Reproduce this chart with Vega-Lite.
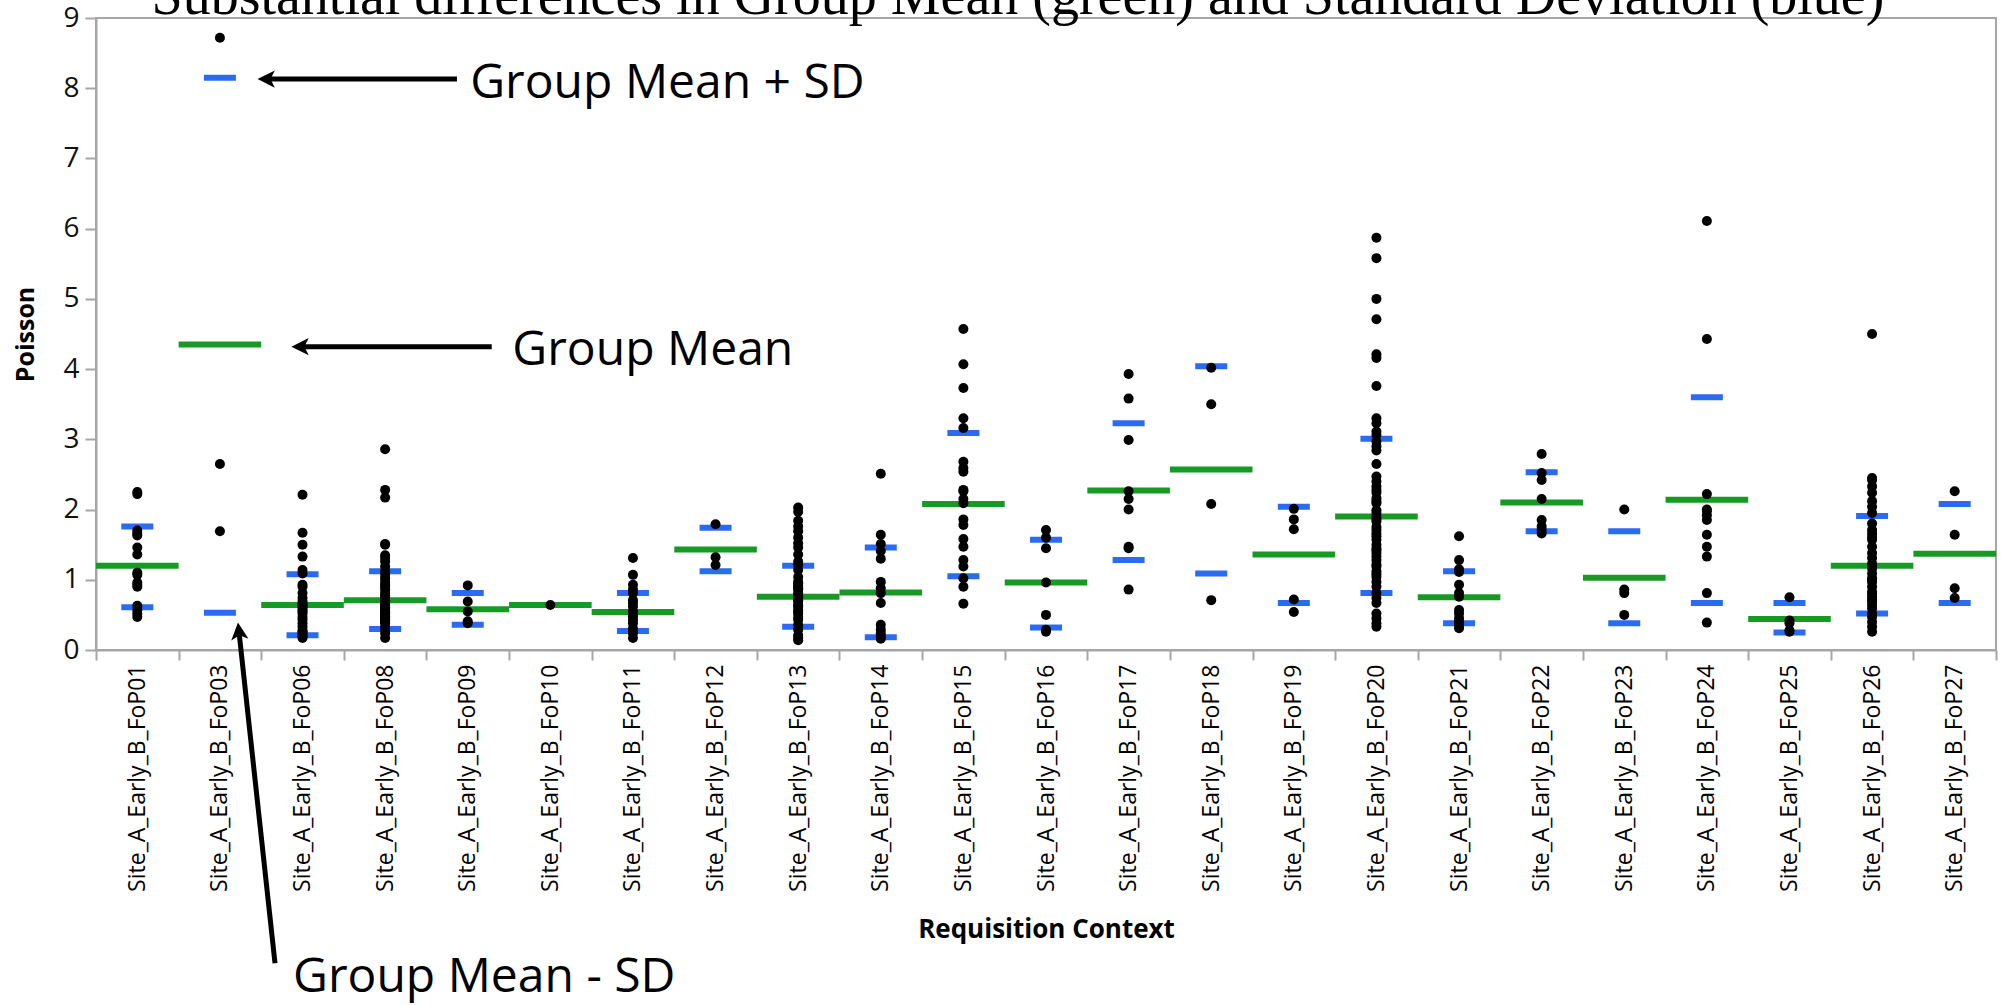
{
  "$schema": "https://vega.github.io/schema/vega-lite/v6.json",
  "width": 1900,
  "height": 632,
  "autosize": {"type": "none"},
  "padding": {"left": 96, "top": 18, "right": 7, "bottom": 355},
  "background": "white",
  "config": {"view": {"stroke": "#a6a6a6", "strokeWidth": 2}},
  "datasets": {
    "pts": [
      {"c":"Site_A_Early_B_FoP01","v":2.22},{"c":"Site_A_Early_B_FoP01","v":2.25},{"c":"Site_A_Early_B_FoP01","v":1.70},{"c":"Site_A_Early_B_FoP01","v":1.66},{"c":"Site_A_Early_B_FoP01","v":1.63},{"c":"Site_A_Early_B_FoP01","v":1.46},{"c":"Site_A_Early_B_FoP01","v":1.36},{"c":"Site_A_Early_B_FoP01","v":1.10},{"c":"Site_A_Early_B_FoP01","v":1.07},{"c":"Site_A_Early_B_FoP01","v":0.96},{"c":"Site_A_Early_B_FoP01","v":0.93},{"c":"Site_A_Early_B_FoP01","v":0.90},{"c":"Site_A_Early_B_FoP01","v":0.63},{"c":"Site_A_Early_B_FoP01","v":0.57},{"c":"Site_A_Early_B_FoP01","v":0.52},{"c":"Site_A_Early_B_FoP01","v":0.47},
      {"c":"Site_A_Early_B_FoP03","v":8.72},{"c":"Site_A_Early_B_FoP03","v":2.65},{"c":"Site_A_Early_B_FoP03","v":1.69},
      {"c":"Site_A_Early_B_FoP06","v":2.21},{"c":"Site_A_Early_B_FoP06","v":1.67},{"c":"Site_A_Early_B_FoP06","v":1.50},{"c":"Site_A_Early_B_FoP06","v":1.33},{"c":"Site_A_Early_B_FoP06","v":1.14},{"c":"Site_A_Early_B_FoP06","v":1.09},{"c":"Site_A_Early_B_FoP06","v":0.93},{"c":"Site_A_Early_B_FoP06","v":0.90},{"c":"Site_A_Early_B_FoP06","v":0.81},{"c":"Site_A_Early_B_FoP06","v":0.74},{"c":"Site_A_Early_B_FoP06","v":0.69},{"c":"Site_A_Early_B_FoP06","v":0.64},{"c":"Site_A_Early_B_FoP06","v":0.62},{"c":"Site_A_Early_B_FoP06","v":0.57},{"c":"Site_A_Early_B_FoP06","v":0.52},{"c":"Site_A_Early_B_FoP06","v":0.47},{"c":"Site_A_Early_B_FoP06","v":0.43},{"c":"Site_A_Early_B_FoP06","v":0.38},{"c":"Site_A_Early_B_FoP06","v":0.33},{"c":"Site_A_Early_B_FoP06","v":0.28},{"c":"Site_A_Early_B_FoP06","v":0.26},{"c":"Site_A_Early_B_FoP06","v":0.24},{"c":"Site_A_Early_B_FoP06","v":0.21},{"c":"Site_A_Early_B_FoP06","v":0.19},{"c":"Site_A_Early_B_FoP06","v":0.17},{"c":"Site_A_Early_B_FoP06","v":0.55},{"c":"Site_A_Early_B_FoP06","v":0.60},{"c":"Site_A_Early_B_FoP06","v":0.66},
      {"c":"Site_A_Early_B_FoP08","v":2.86},{"c":"Site_A_Early_B_FoP08","v":2.28},{"c":"Site_A_Early_B_FoP08","v":2.17},{"c":"Site_A_Early_B_FoP08","v":1.50},{"c":"Site_A_Early_B_FoP08","v":1.51},{"c":"Site_A_Early_B_FoP08","v":1.35},{"c":"Site_A_Early_B_FoP08","v":1.31},{"c":"Site_A_Early_B_FoP08","v":1.26},{"c":"Site_A_Early_B_FoP08","v":1.19},{"c":"Site_A_Early_B_FoP08","v":1.12},{"c":"Site_A_Early_B_FoP08","v":1.07},{"c":"Site_A_Early_B_FoP08","v":1.02},{"c":"Site_A_Early_B_FoP08","v":0.97},{"c":"Site_A_Early_B_FoP08","v":0.93},{"c":"Site_A_Early_B_FoP08","v":0.90},{"c":"Site_A_Early_B_FoP08","v":0.86},{"c":"Site_A_Early_B_FoP08","v":0.81},{"c":"Site_A_Early_B_FoP08","v":0.78},{"c":"Site_A_Early_B_FoP08","v":0.76},{"c":"Site_A_Early_B_FoP08","v":0.71},{"c":"Site_A_Early_B_FoP08","v":0.69},{"c":"Site_A_Early_B_FoP08","v":0.66},{"c":"Site_A_Early_B_FoP08","v":0.64},{"c":"Site_A_Early_B_FoP08","v":0.62},{"c":"Site_A_Early_B_FoP08","v":0.59},{"c":"Site_A_Early_B_FoP08","v":0.55},{"c":"Site_A_Early_B_FoP08","v":0.52},{"c":"Site_A_Early_B_FoP08","v":0.50},{"c":"Site_A_Early_B_FoP08","v":0.47},{"c":"Site_A_Early_B_FoP08","v":0.45},{"c":"Site_A_Early_B_FoP08","v":0.43},{"c":"Site_A_Early_B_FoP08","v":0.40},{"c":"Site_A_Early_B_FoP08","v":0.38},{"c":"Site_A_Early_B_FoP08","v":0.33},{"c":"Site_A_Early_B_FoP08","v":0.29},{"c":"Site_A_Early_B_FoP08","v":0.24},{"c":"Site_A_Early_B_FoP08","v":0.17},{"c":"Site_A_Early_B_FoP08","v":0.57},{"c":"Site_A_Early_B_FoP08","v":0.53},{"c":"Site_A_Early_B_FoP08","v":0.48},{"c":"Site_A_Early_B_FoP08","v":0.60},{"c":"Site_A_Early_B_FoP08","v":0.42},
      {"c":"Site_A_Early_B_FoP09","v":0.92},{"c":"Site_A_Early_B_FoP09","v":0.69},{"c":"Site_A_Early_B_FoP09","v":0.55},{"c":"Site_A_Early_B_FoP09","v":0.41},{"c":"Site_A_Early_B_FoP09","v":0.38},
      {"c":"Site_A_Early_B_FoP10","v":0.64},
      {"c":"Site_A_Early_B_FoP11","v":1.31},{"c":"Site_A_Early_B_FoP11","v":1.07},{"c":"Site_A_Early_B_FoP11","v":0.93},{"c":"Site_A_Early_B_FoP11","v":0.86},{"c":"Site_A_Early_B_FoP11","v":0.81},{"c":"Site_A_Early_B_FoP11","v":0.71},{"c":"Site_A_Early_B_FoP11","v":0.67},{"c":"Site_A_Early_B_FoP11","v":0.62},{"c":"Site_A_Early_B_FoP11","v":0.55},{"c":"Site_A_Early_B_FoP11","v":0.50},{"c":"Site_A_Early_B_FoP11","v":0.48},{"c":"Site_A_Early_B_FoP11","v":0.43},{"c":"Site_A_Early_B_FoP11","v":0.38},{"c":"Site_A_Early_B_FoP11","v":0.31},{"c":"Site_A_Early_B_FoP11","v":0.26},{"c":"Site_A_Early_B_FoP11","v":0.24},{"c":"Site_A_Early_B_FoP11","v":0.17},
      {"c":"Site_A_Early_B_FoP12","v":1.79},{"c":"Site_A_Early_B_FoP12","v":1.32},{"c":"Site_A_Early_B_FoP12","v":1.21},
      {"c":"Site_A_Early_B_FoP13","v":2.03},{"c":"Site_A_Early_B_FoP13","v":1.97},{"c":"Site_A_Early_B_FoP13","v":1.84},{"c":"Site_A_Early_B_FoP13","v":1.76},{"c":"Site_A_Early_B_FoP13","v":1.69},{"c":"Site_A_Early_B_FoP13","v":1.60},{"c":"Site_A_Early_B_FoP13","v":1.52},{"c":"Site_A_Early_B_FoP13","v":1.46},{"c":"Site_A_Early_B_FoP13","v":1.36},{"c":"Site_A_Early_B_FoP13","v":1.26},{"c":"Site_A_Early_B_FoP13","v":1.21},{"c":"Site_A_Early_B_FoP13","v":1.14},{"c":"Site_A_Early_B_FoP13","v":1.04},{"c":"Site_A_Early_B_FoP13","v":0.97},{"c":"Site_A_Early_B_FoP13","v":0.93},{"c":"Site_A_Early_B_FoP13","v":0.90},{"c":"Site_A_Early_B_FoP13","v":0.86},{"c":"Site_A_Early_B_FoP13","v":0.81},{"c":"Site_A_Early_B_FoP13","v":0.76},{"c":"Site_A_Early_B_FoP13","v":0.71},{"c":"Site_A_Early_B_FoP13","v":0.69},{"c":"Site_A_Early_B_FoP13","v":0.64},{"c":"Site_A_Early_B_FoP13","v":0.57},{"c":"Site_A_Early_B_FoP13","v":0.52},{"c":"Site_A_Early_B_FoP13","v":0.47},{"c":"Site_A_Early_B_FoP13","v":0.43},{"c":"Site_A_Early_B_FoP13","v":0.36},{"c":"Site_A_Early_B_FoP13","v":0.29},{"c":"Site_A_Early_B_FoP13","v":0.21},{"c":"Site_A_Early_B_FoP13","v":0.17},{"c":"Site_A_Early_B_FoP13","v":0.14},{"c":"Site_A_Early_B_FoP13","v":0.95},{"c":"Site_A_Early_B_FoP13","v":0.88},{"c":"Site_A_Early_B_FoP13","v":0.79},{"c":"Site_A_Early_B_FoP13","v":0.74},{"c":"Site_A_Early_B_FoP13","v":0.62},{"c":"Site_A_Early_B_FoP13","v":0.55},
      {"c":"Site_A_Early_B_FoP14","v":2.51},{"c":"Site_A_Early_B_FoP14","v":1.64},{"c":"Site_A_Early_B_FoP14","v":1.51},{"c":"Site_A_Early_B_FoP14","v":1.41},{"c":"Site_A_Early_B_FoP14","v":1.30},{"c":"Site_A_Early_B_FoP14","v":0.97},{"c":"Site_A_Early_B_FoP14","v":0.88},{"c":"Site_A_Early_B_FoP14","v":0.81},{"c":"Site_A_Early_B_FoP14","v":0.67},{"c":"Site_A_Early_B_FoP14","v":0.36},{"c":"Site_A_Early_B_FoP14","v":0.29},{"c":"Site_A_Early_B_FoP14","v":0.24},{"c":"Site_A_Early_B_FoP14","v":0.19},{"c":"Site_A_Early_B_FoP14","v":0.16},
      {"c":"Site_A_Early_B_FoP15","v":4.57},{"c":"Site_A_Early_B_FoP15","v":4.07},{"c":"Site_A_Early_B_FoP15","v":3.73},{"c":"Site_A_Early_B_FoP15","v":3.30},{"c":"Site_A_Early_B_FoP15","v":3.16},{"c":"Site_A_Early_B_FoP15","v":2.68},{"c":"Site_A_Early_B_FoP15","v":2.59},{"c":"Site_A_Early_B_FoP15","v":2.54},{"c":"Site_A_Early_B_FoP15","v":2.28},{"c":"Site_A_Early_B_FoP15","v":2.26},{"c":"Site_A_Early_B_FoP15","v":2.15},{"c":"Site_A_Early_B_FoP15","v":2.09},{"c":"Site_A_Early_B_FoP15","v":1.86},{"c":"Site_A_Early_B_FoP15","v":1.78},{"c":"Site_A_Early_B_FoP15","v":1.58},{"c":"Site_A_Early_B_FoP15","v":1.47},{"c":"Site_A_Early_B_FoP15","v":1.28},{"c":"Site_A_Early_B_FoP15","v":1.19},{"c":"Site_A_Early_B_FoP15","v":1.02},{"c":"Site_A_Early_B_FoP15","v":0.90},{"c":"Site_A_Early_B_FoP15","v":0.66},
      {"c":"Site_A_Early_B_FoP16","v":1.71},{"c":"Site_A_Early_B_FoP16","v":1.60},{"c":"Site_A_Early_B_FoP16","v":1.45},{"c":"Site_A_Early_B_FoP16","v":0.96},{"c":"Site_A_Early_B_FoP16","v":0.50},{"c":"Site_A_Early_B_FoP16","v":0.29},{"c":"Site_A_Early_B_FoP16","v":0.26},
      {"c":"Site_A_Early_B_FoP17","v":3.93},{"c":"Site_A_Early_B_FoP17","v":3.58},{"c":"Site_A_Early_B_FoP17","v":2.99},{"c":"Site_A_Early_B_FoP17","v":2.26},{"c":"Site_A_Early_B_FoP17","v":2.15},{"c":"Site_A_Early_B_FoP17","v":2.00},{"c":"Site_A_Early_B_FoP17","v":1.47},{"c":"Site_A_Early_B_FoP17","v":1.45},{"c":"Site_A_Early_B_FoP17","v":0.86},
      {"c":"Site_A_Early_B_FoP18","v":4.02},{"c":"Site_A_Early_B_FoP18","v":3.50},{"c":"Site_A_Early_B_FoP18","v":2.08},{"c":"Site_A_Early_B_FoP18","v":0.71},
      {"c":"Site_A_Early_B_FoP19","v":2.01},{"c":"Site_A_Early_B_FoP19","v":1.86},{"c":"Site_A_Early_B_FoP19","v":1.72},{"c":"Site_A_Early_B_FoP19","v":0.72},{"c":"Site_A_Early_B_FoP19","v":0.54},
      {"c":"Site_A_Early_B_FoP20","v":5.87},{"c":"Site_A_Early_B_FoP20","v":5.58},{"c":"Site_A_Early_B_FoP20","v":5.00},{"c":"Site_A_Early_B_FoP20","v":4.71},{"c":"Site_A_Early_B_FoP20","v":4.21},{"c":"Site_A_Early_B_FoP20","v":4.16},{"c":"Site_A_Early_B_FoP20","v":3.76},{"c":"Site_A_Early_B_FoP20","v":3.30},{"c":"Site_A_Early_B_FoP20","v":3.23},{"c":"Site_A_Early_B_FoP20","v":3.11},{"c":"Site_A_Early_B_FoP20","v":3.06},{"c":"Site_A_Early_B_FoP20","v":2.97},{"c":"Site_A_Early_B_FoP20","v":2.90},{"c":"Site_A_Early_B_FoP20","v":2.84},{"c":"Site_A_Early_B_FoP20","v":2.65},{"c":"Site_A_Early_B_FoP20","v":2.47},{"c":"Site_A_Early_B_FoP20","v":2.40},{"c":"Site_A_Early_B_FoP20","v":2.33},{"c":"Site_A_Early_B_FoP20","v":2.24},{"c":"Site_A_Early_B_FoP20","v":2.16},{"c":"Site_A_Early_B_FoP20","v":2.09},{"c":"Site_A_Early_B_FoP20","v":1.99},{"c":"Site_A_Early_B_FoP20","v":1.90},{"c":"Site_A_Early_B_FoP20","v":1.83},{"c":"Site_A_Early_B_FoP20","v":1.71},{"c":"Site_A_Early_B_FoP20","v":1.66},{"c":"Site_A_Early_B_FoP20","v":1.57},{"c":"Site_A_Early_B_FoP20","v":1.50},{"c":"Site_A_Early_B_FoP20","v":1.45},{"c":"Site_A_Early_B_FoP20","v":1.38},{"c":"Site_A_Early_B_FoP20","v":1.28},{"c":"Site_A_Early_B_FoP20","v":1.19},{"c":"Site_A_Early_B_FoP20","v":1.12},{"c":"Site_A_Early_B_FoP20","v":1.04},{"c":"Site_A_Early_B_FoP20","v":0.97},{"c":"Site_A_Early_B_FoP20","v":0.90},{"c":"Site_A_Early_B_FoP20","v":0.81},{"c":"Site_A_Early_B_FoP20","v":0.74},{"c":"Site_A_Early_B_FoP20","v":0.67},{"c":"Site_A_Early_B_FoP20","v":0.52},{"c":"Site_A_Early_B_FoP20","v":0.45},{"c":"Site_A_Early_B_FoP20","v":0.38},{"c":"Site_A_Early_B_FoP20","v":0.33},{"c":"Site_A_Early_B_FoP20","v":1.95},{"c":"Site_A_Early_B_FoP20","v":1.75},{"c":"Site_A_Early_B_FoP20","v":1.62},{"c":"Site_A_Early_B_FoP20","v":1.42},{"c":"Site_A_Early_B_FoP20","v":1.33},{"c":"Site_A_Early_B_FoP20","v":1.22},{"c":"Site_A_Early_B_FoP20","v":1.08},{"c":"Site_A_Early_B_FoP20","v":2.12},{"c":"Site_A_Early_B_FoP20","v":2.28},{"c":"Site_A_Early_B_FoP20","v":1.86},
      {"c":"Site_A_Early_B_FoP21","v":1.62},{"c":"Site_A_Early_B_FoP21","v":1.28},{"c":"Site_A_Early_B_FoP21","v":1.15},{"c":"Site_A_Early_B_FoP21","v":1.11},{"c":"Site_A_Early_B_FoP21","v":0.93},{"c":"Site_A_Early_B_FoP21","v":0.81},{"c":"Site_A_Early_B_FoP21","v":0.76},{"c":"Site_A_Early_B_FoP21","v":0.57},{"c":"Site_A_Early_B_FoP21","v":0.52},{"c":"Site_A_Early_B_FoP21","v":0.45},{"c":"Site_A_Early_B_FoP21","v":0.40},{"c":"Site_A_Early_B_FoP21","v":0.36},{"c":"Site_A_Early_B_FoP21","v":0.31},
      {"c":"Site_A_Early_B_FoP22","v":2.79},{"c":"Site_A_Early_B_FoP22","v":2.52},{"c":"Site_A_Early_B_FoP22","v":2.42},{"c":"Site_A_Early_B_FoP22","v":2.15},{"c":"Site_A_Early_B_FoP22","v":1.85},{"c":"Site_A_Early_B_FoP22","v":1.76},{"c":"Site_A_Early_B_FoP22","v":1.71},{"c":"Site_A_Early_B_FoP22","v":1.66},
      {"c":"Site_A_Early_B_FoP23","v":2.00},{"c":"Site_A_Early_B_FoP23","v":0.86},{"c":"Site_A_Early_B_FoP23","v":0.81},{"c":"Site_A_Early_B_FoP23","v":0.50},
      {"c":"Site_A_Early_B_FoP24","v":6.11},{"c":"Site_A_Early_B_FoP24","v":4.43},{"c":"Site_A_Early_B_FoP24","v":2.22},{"c":"Site_A_Early_B_FoP24","v":2.00},{"c":"Site_A_Early_B_FoP24","v":1.98},{"c":"Site_A_Early_B_FoP24","v":1.92},{"c":"Site_A_Early_B_FoP24","v":1.85},{"c":"Site_A_Early_B_FoP24","v":1.64},{"c":"Site_A_Early_B_FoP24","v":1.47},{"c":"Site_A_Early_B_FoP24","v":1.33},{"c":"Site_A_Early_B_FoP24","v":0.81},{"c":"Site_A_Early_B_FoP24","v":0.39},
      {"c":"Site_A_Early_B_FoP25","v":0.75},{"c":"Site_A_Early_B_FoP25","v":0.42},{"c":"Site_A_Early_B_FoP25","v":0.38},{"c":"Site_A_Early_B_FoP25","v":0.28},{"c":"Site_A_Early_B_FoP25","v":0.26},
      {"c":"Site_A_Early_B_FoP26","v":4.50},{"c":"Site_A_Early_B_FoP26","v":2.45},{"c":"Site_A_Early_B_FoP26","v":2.42},{"c":"Site_A_Early_B_FoP26","v":2.33},{"c":"Site_A_Early_B_FoP26","v":2.24},{"c":"Site_A_Early_B_FoP26","v":2.12},{"c":"Site_A_Early_B_FoP26","v":2.04},{"c":"Site_A_Early_B_FoP26","v":1.95},{"c":"Site_A_Early_B_FoP26","v":1.80},{"c":"Site_A_Early_B_FoP26","v":1.71},{"c":"Site_A_Early_B_FoP26","v":1.66},{"c":"Site_A_Early_B_FoP26","v":1.61},{"c":"Site_A_Early_B_FoP26","v":1.57},{"c":"Site_A_Early_B_FoP26","v":1.47},{"c":"Site_A_Early_B_FoP26","v":1.38},{"c":"Site_A_Early_B_FoP26","v":1.31},{"c":"Site_A_Early_B_FoP26","v":1.23},{"c":"Site_A_Early_B_FoP26","v":1.16},{"c":"Site_A_Early_B_FoP26","v":1.09},{"c":"Site_A_Early_B_FoP26","v":1.02},{"c":"Site_A_Early_B_FoP26","v":0.97},{"c":"Site_A_Early_B_FoP26","v":0.90},{"c":"Site_A_Early_B_FoP26","v":0.83},{"c":"Site_A_Early_B_FoP26","v":0.76},{"c":"Site_A_Early_B_FoP26","v":0.69},{"c":"Site_A_Early_B_FoP26","v":0.64},{"c":"Site_A_Early_B_FoP26","v":0.59},{"c":"Site_A_Early_B_FoP26","v":0.52},{"c":"Site_A_Early_B_FoP26","v":0.47},{"c":"Site_A_Early_B_FoP26","v":0.40},{"c":"Site_A_Early_B_FoP26","v":0.33},{"c":"Site_A_Early_B_FoP26","v":0.26},{"c":"Site_A_Early_B_FoP26","v":1.00},{"c":"Site_A_Early_B_FoP26","v":0.80},{"c":"Site_A_Early_B_FoP26","v":1.20},{"c":"Site_A_Early_B_FoP26","v":0.72},
      {"c":"Site_A_Early_B_FoP27","v":2.26},{"c":"Site_A_Early_B_FoP27","v":1.64},{"c":"Site_A_Early_B_FoP27","v":0.88},{"c":"Site_A_Early_B_FoP27","v":0.74}
    ],
    "sum": [
      {"c":"Site_A_Early_B_FoP01","mean":1.20,"lo":0.61,"hi":1.76},
      {"c":"Site_A_Early_B_FoP03","mean":4.35,"lo":0.53,"hi":8.15},
      {"c":"Site_A_Early_B_FoP06","mean":0.64,"lo":0.21,"hi":1.08},
      {"c":"Site_A_Early_B_FoP08","mean":0.71,"lo":0.30,"hi":1.12},
      {"c":"Site_A_Early_B_FoP09","mean":0.58,"lo":0.36,"hi":0.81},
      {"c":"Site_A_Early_B_FoP10","mean":0.64},
      {"c":"Site_A_Early_B_FoP11","mean":0.54,"lo":0.27,"hi":0.81},
      {"c":"Site_A_Early_B_FoP12","mean":1.43,"lo":1.12,"hi":1.74},
      {"c":"Site_A_Early_B_FoP13","mean":0.76,"lo":0.33,"hi":1.20},
      {"c":"Site_A_Early_B_FoP14","mean":0.82,"lo":0.18,"hi":1.46},
      {"c":"Site_A_Early_B_FoP15","mean":2.08,"lo":1.05,"hi":3.09},
      {"c":"Site_A_Early_B_FoP16","mean":0.96,"lo":0.32,"hi":1.57},
      {"c":"Site_A_Early_B_FoP17","mean":2.27,"lo":1.28,"hi":3.23},
      {"c":"Site_A_Early_B_FoP18","mean":2.57,"lo":1.09,"hi":4.04},
      {"c":"Site_A_Early_B_FoP19","mean":1.36,"lo":0.67,"hi":2.04},
      {"c":"Site_A_Early_B_FoP20","mean":1.90,"lo":0.81,"hi":3.01},
      {"c":"Site_A_Early_B_FoP21","mean":0.75,"lo":0.38,"hi":1.12},
      {"c":"Site_A_Early_B_FoP22","mean":2.10,"lo":1.69,"hi":2.53},
      {"c":"Site_A_Early_B_FoP23","mean":1.03,"lo":0.38,"hi":1.69},
      {"c":"Site_A_Early_B_FoP24","mean":2.14,"lo":0.67,"hi":3.60},
      {"c":"Site_A_Early_B_FoP25","mean":0.44,"lo":0.25,"hi":0.67},
      {"c":"Site_A_Early_B_FoP26","mean":1.20,"lo":0.52,"hi":1.91},
      {"c":"Site_A_Early_B_FoP27","mean":1.37,"lo":0.67,"hi":2.08}
    ],
    "arrows": [
      {"id":"plus","x":2.06,"y":8.13,"x2":4.37,"y2":8.13},
      {"id":"mean","x":2.47,"y":4.32,"x2":4.79,"y2":4.32},
      {"id":"minus","x":1.73,"y":0.27,"x2":2.167,"y2":-4.46}
    ],
    "notes": [
      {"label":"Group Mean + SD","x":4.53,"y":7.86},
      {"label":"Group Mean","x":5.04,"y":4.06},
      {"label":"Group Mean - SD","x":2.385,"y":-4.87}
    ],
    "heading": [
      {"label":"Substantial differences in Group Mean (green) and Standard Deviation (blue)","x":11.16,"y":9.06}
    ]
  },
  "layer": [
    {
      "encoding": {
        "x": {
          "field": "c",
          "type": "nominal",
          "scale": {
            "type": "band",
            "paddingInner": 0,
            "paddingOuter": 0,
            "domain": ["Site_A_Early_B_FoP01","Site_A_Early_B_FoP03","Site_A_Early_B_FoP06","Site_A_Early_B_FoP08","Site_A_Early_B_FoP09","Site_A_Early_B_FoP10","Site_A_Early_B_FoP11","Site_A_Early_B_FoP12","Site_A_Early_B_FoP13","Site_A_Early_B_FoP14","Site_A_Early_B_FoP15","Site_A_Early_B_FoP16","Site_A_Early_B_FoP17","Site_A_Early_B_FoP18","Site_A_Early_B_FoP19","Site_A_Early_B_FoP20","Site_A_Early_B_FoP21","Site_A_Early_B_FoP22","Site_A_Early_B_FoP23","Site_A_Early_B_FoP24","Site_A_Early_B_FoP25","Site_A_Early_B_FoP26","Site_A_Early_B_FoP27"]
          },
          "axis": {
            "title": "Requisition Context",
            "labelAngle": -90,
            "labelFont": "Open Sans",
            "labelFontSize": 23,
            "labelColor": "black",
            "labelPadding": 4,
            "labelLimit": 0,
            "tickBand": "extent",
            "tickSize": 10,
            "tickWidth": 2,
            "tickColor": "#a6a6a6",
            "domainColor": "#a6a6a6",
            "domainWidth": 2,
            "titleFont": "Open Sans",
            "titleFontSize": 26,
            "titleFontWeight": "bold",
            "titleColor": "black",
            "titleBaseline": "alphabetic",
            "titleY": 287
          }
        }
      },
      "layer": [
        {
          "data": {"name": "sum"},
          "mark": {"type": "tick", "color": "#179a24", "size": 82.6, "thickness": 6, "opacity": 1},
          "encoding": {
            "y": {"field": "mean", "type": "quantitative", "scale": {"domain": [0, 9], "nice": false},
              "axis": {
                "title": "Poisson",
                "values": [0,0.5,1,1.5,2,2.5,3,3.5,4,4.5,5,5.5,6,6.5,7,7.5,8,8.5,9],
                "labelExpr": "datum.value % 1 === 0 ? format(datum.value, 'd') : ''",
                "labelOverlap": false,
                "tickSize": {"condition": {"test": "datum.value % 1 === 0", "value": 11}, "value": 6},
                "tickWidth": 2,
                "tickColor": "#a6a6a6",
                "domainColor": "#a6a6a6",
                "domainWidth": 2,
                "grid": false,
                "labelFont": "Open Sans",
                "labelFontSize": 28,
                "labelColor": "#111111",
                "labelPadding": 6,
                "titleFont": "Open Sans",
                "titleFontSize": 25,
                "titleFontWeight": "bold",
                "titleColor": "black",
                "titlePadding": 24
              }
            }
          }
        },
        {
          "data": {"name": "sum"},
          "transform": [{"filter": "isValid(datum.lo)"}],
          "mark": {"type": "tick", "color": "#2a6bf2", "size": 32, "thickness": 6, "opacity": 1},
          "encoding": {"y": {"field": "lo", "type": "quantitative", "scale": {"domain": [0, 9], "nice": false}, "axis": {"title": "Poisson"}}}
        },
        {
          "data": {"name": "sum"},
          "transform": [{"filter": "isValid(datum.hi)"}],
          "mark": {"type": "tick", "color": "#2a6bf2", "size": 32, "thickness": 6, "opacity": 1},
          "encoding": {"y": {"field": "hi", "type": "quantitative", "scale": {"domain": [0, 9], "nice": false}, "axis": {"title": "Poisson"}}}
        },
        {
          "data": {"name": "pts"},
          "mark": {"type": "circle", "color": "black", "size": 100, "opacity": 1},
          "encoding": {"y": {"field": "v", "type": "quantitative", "scale": {"domain": [0, 9], "nice": false}, "axis": {"title": "Poisson"}}}
        }
      ]
    },
    {
      "layer": [
        {
          "data": {"name": "arrows"},
          "mark": {"type": "rule", "color": "black", "strokeWidth": 5},
          "encoding": {
            "x": {"field": "x", "type": "quantitative", "scale": {"domain": [0, 23], "nice": false, "zero": false}, "axis": null},
            "x2": {"field": "x2"},
            "y": {"field": "y", "type": "quantitative", "scale": {"domain": [0, 9], "nice": false}, "axis": {"title": "Poisson"}},
            "y2": {"field": "y2"}
          }
        },
        {
          "data": {"name": "arrows"},
          "transform": [{"filter": "datum.id !== 'minus'"}],
          "mark": {"type": "point", "shape": "M-1,0L1,-1L0.5,0L1,1Z", "filled": true, "color": "black", "size": 300, "opacity": 1},
          "encoding": {
            "x": {"field": "x", "type": "quantitative", "scale": {"domain": [0, 23], "nice": false, "zero": false}, "axis": null},
            "y": {"field": "y", "type": "quantitative", "scale": {"domain": [0, 9], "nice": false}, "axis": {"title": "Poisson"}}
          }
        },
        {
          "data": {"name": "arrows"},
          "transform": [{"filter": "datum.id === 'minus'"}],
          "mark": {"type": "point", "shape": "M-1,0L1,-1L0.5,0L1,1Z", "filled": true, "color": "black", "size": 300, "angle": 83.8, "opacity": 1},
          "encoding": {
            "x": {"field": "x", "type": "quantitative", "scale": {"domain": [0, 23], "nice": false, "zero": false}, "axis": null},
            "y": {"field": "y", "type": "quantitative", "scale": {"domain": [0, 9], "nice": false}, "axis": {"title": "Poisson"}}
          }
        },
        {
          "data": {"name": "notes"},
          "mark": {"type": "text", "font": "Open Sans", "fontSize": 48, "color": "black", "align": "left", "baseline": "alphabetic"},
          "encoding": {
            "x": {"field": "x", "type": "quantitative", "scale": {"domain": [0, 23], "nice": false, "zero": false}, "axis": null},
            "y": {"field": "y", "type": "quantitative", "scale": {"domain": [0, 9], "nice": false}, "axis": {"title": "Poisson"}},
            "text": {"field": "label"}
          }
        },
        {
          "data": {"name": "heading"},
          "mark": {"type": "text", "font": "Liberation Serif", "fontSize": 56, "color": "black", "align": "center", "baseline": "alphabetic"},
          "encoding": {
            "x": {"field": "x", "type": "quantitative", "scale": {"domain": [0, 23], "nice": false, "zero": false}, "axis": null},
            "y": {"field": "y", "type": "quantitative", "scale": {"domain": [0, 9], "nice": false}, "axis": {"title": "Poisson"}},
            "text": {"field": "label"}
          }
        }
      ]
    }
  ],
  "resolve": {"scale": {"x": "independent"}, "axis": {"x": "independent"}}
}
